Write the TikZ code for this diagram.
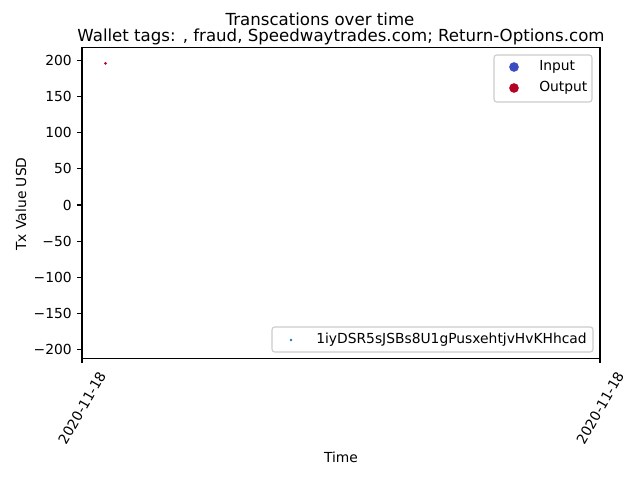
\documentclass[tikz,border=0pt]{standalone}
\usepackage{fontspec}
\setmainfont{DejaVu Sans}
\usepackage{xcolor}
\usepackage{tikz}
\definecolor{inblue}{HTML}{3B4CC0}
\definecolor{outred}{HTML}{B40426}
\definecolor{addrblue}{HTML}{1F77B4}
\definecolor{legframe}{HTML}{CCCCCC}

\begin{document}
\begin{tikzpicture}[x=0.01in,y=-0.01in,
    tick/.style={line width=0.8pt},
    ticklabel/.style={font=\fontsize{10}{12}\selectfont, inner sep=0pt},
    legbox/.style={draw=legframe, fill=white, line width=0.8pt, rounded corners=2pt},
    legmark/.style={circle, inner sep=0pt, minimum size=#1},
    legtext/.style={anchor=west, inner sep=0pt, font=\fontsize{10}{12}\selectfont}]
        \useasboundingbox (0,0) rectangle (640,480);
        \fill[white] (0,0) rectangle (640,480);

        % axes frame
        \coordinate (ll) at (82,358.5);
        \coordinate (ur) at (600,47.5);
        \draw[line width=0.8pt] (ll) rectangle (ur);

        % y ticks
        \foreach \v/\t [count=\i] in {200/200,150/150,100/100,50/50,0/0,-50/−50,-100/−100,-150/−150,-200/−200}
            \draw[tick] (82,{205-0.7225*\v}) -- ++(-4.9,0) node[ticklabel, left=3.5pt] (yl\i) {\t};

        % x ticks
        \draw[tick] (82,358.5) -- ++(0,4.9);
        \draw[tick] (600,358.5) -- ++(0,4.9);
        \node[ticklabel, rotate=60] (xl1) at (82,408) {2020-11-18};
        \node[ticklabel, rotate=60] (xl2) at (600,408) {2020-11-18};

        % data
        \node[legmark=2.2pt, fill=outred] (tx) at (105.5,{205-0.7225*196}) {};

        % titles and axis labels
        \node[anchor=base, font=\fontsize{12}{14}\selectfont, inner sep=0pt] (suptitle) at (320,25.5) {Transcations over time};
        \node[anchor=base, font=\fontsize{12}{14}\selectfont, inner sep=0pt] (title) at (341,41.5) {Wallet tags: , fraud, Speedwaytrades.com; Return-Options.com};
        \node[ticklabel, rotate=90] (ylab) at (21,204) {Tx Value USD};
        \node[ticklabel] (xlab) at (341,457) {Time};

        % legend: input / output
        \draw[legbox] (494,55) rectangle (592,102);
        \node[legmark=7pt, fill=inblue] (inmark) at (514,67) {};
        \node[legtext] (inlab) at (539,67) {Input};
        \node[legmark=7pt, fill=outred] (outmark) at (514,88) {};
        \node[legtext] (outlab) at (539,88) {Output};

        % legend: address
        \draw[legbox] (272,327) rectangle (593,352);
        \node[legmark=2pt, fill=addrblue] (addrmark) at (291,340) {};
        \node[legtext] (addrlab) at (316,340) {1iyDSR5sJSBs8U1gPusxehtjvHvKHhcad};
    \end{tikzpicture}
\end{document}
